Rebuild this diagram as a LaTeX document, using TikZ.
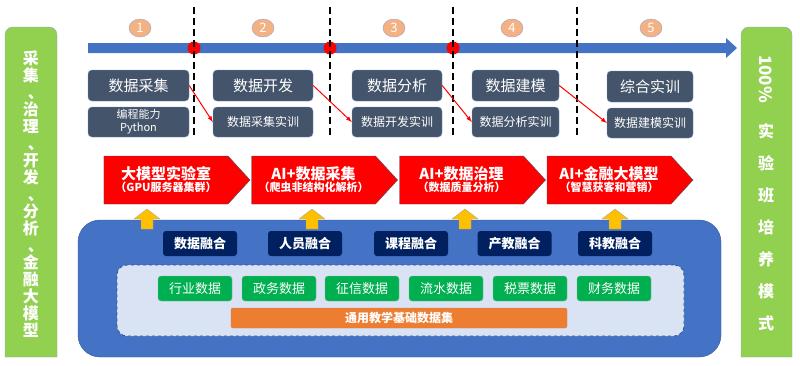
\documentclass[tikz,border=0pt]{standalone}
\usepackage{fontspec}
\setmainfont{Noto Sans CJK SC}
\usetikzlibrary{shapes.geometric,shapes.symbols}
\definecolor{sidegreen}{HTML}{92D050}
\definecolor{sideedge}{HTML}{8EA9B8}
\definecolor{slate}{HTML}{44546A}
\definecolor{slateedge}{HTML}{6F8FC8}
\definecolor{timeline}{HTML}{4472C4}
\definecolor{numorange}{HTML}{F4B183}
\definecolor{numedge}{HTML}{9DA7C4}
\definecolor{liftyellow}{HTML}{FFC000}
\definecolor{panelblue}{HTML}{4472C4}
\definecolor{paneledge}{HTML}{2F5597}
\definecolor{navy}{HTML}{002060}
\definecolor{poolblue}{HTML}{DAE3F3}
\definecolor{datagreen}{HTML}{00B050}
\definecolor{dataedge}{HTML}{7FB89A}
\definecolor{baseorange}{HTML}{ED7D31}
\definecolor{baseedge}{HTML}{C8855A}
\newcommand{\dunhao}{\makebox[1em][l]{\hspace{0.3em}、}}

\tikzstyle{every node}=[align=center, inner sep=1pt, text=white]
\tikzstyle{side}=[fill=sidegreen, draw=sideedge, thin]
\tikzstyle{phase}=[draw=slateedge, fill=slate, rounded corners=4pt, minimum height=31pt, font={\fontsize{15}{17}\selectfont}]
\tikzstyle{training}=[phase, minimum height=30pt, font={\fontsize{12}{13}\selectfont}]
\tikzstyle{num}=[ellipse, fill=numorange, draw=numedge, minimum width=22pt, minimum height=18pt, inner sep=0pt, font={\fontsize{13}{13}\selectfont}]
\tikzstyle{milestone}=[circle, fill=red, minimum size=13pt, inner sep=0pt]
\tikzstyle{cut}=[black, line width=1.5pt, dash pattern=on 7pt off 4pt]
\tikzstyle{jump}=[red, line width=1pt, -latex]
\tikzstyle{lab}=[signal, signal to=east, signal pointer angle=95, fill=red, draw=slate, minimum width=146pt, minimum height=48pt, font=\bfseries]
\tikzstyle{lift}=[fill=liftyellow, draw=gray!70, thin]
\tikzstyle{panel}=[fill=panelblue, draw=paneledge, rounded corners=22pt, minimum width=643pt, minimum height=137pt]
\tikzstyle{fusion}=[fill=navy, rounded corners=3pt, minimum width=74pt, minimum height=25pt, font={\bfseries\fontsize{13}{15}\selectfont}]
\tikzstyle{pool}=[fill=poolblue, draw=paneledge, thick, dashed, rounded corners=10pt, minimum width=567pt, minimum height=71pt]
\tikzstyle{dataset}=[fill=datagreen, draw=dataedge, rounded corners=3pt, minimum width=74pt, minimum height=25pt, font={\fontsize{13}{15}\selectfont}]
\tikzstyle{base}=[fill=baseorange, draw=baseedge, rounded corners=2pt, minimum width=336pt, minimum height=20pt, font={\bfseries\fontsize{12}{14}\selectfont}]

\begin{document}
\begin{tikzpicture}[x=1pt, y=-1pt]
    \useasboundingbox (0,0) rectangle (800,365);

    % side boxes
    \draw[side] (5,357) [rounded corners=8pt] -- (5,27) -- (57,27) [sharp corners] -- (57,357) -- cycle;
    \draw[side] (741,357) [rounded corners=8pt] -- (741,27) -- (792,27) [sharp corners] -- (792,357) -- cycle;
    \node[font={\bfseries\fontsize{16}{17}\selectfont}] (goal) at (31,194)
        {采\\集\\\dunhao\\治\\理\\\dunhao\\开\\发\\\dunhao\\分\\析\\\dunhao\\金\\融\\大\\模\\型};
    \node[rotate=-90, font={\bfseries\fontsize{17}{17}\selectfont}] (rate) at (766,79) {100\%};
    \node[font={\bfseries\fontsize{16}{32}\selectfont}] (mode) at (766,227) {实\\验\\班\\培\\养\\模\\式};

    % timeline
    \fill[timeline] (88,43) -- (726,43) -- (726,38) -- (737,48) -- (726,58) -- (726,53) -- (88,53) -- cycle;
    \node[milestone] (m1) at (194,48) {};
    \node[milestone] (m2) at (330,48) {};
    \node[milestone] (m3) at (453,48) {};
    \foreach \x in {194,330,453,577}
        \draw[cut] (\x,7) -- (\x,135);
    \node[num] (n1) at (140,28) {1};
    \node[num] (n2) at (263,28) {2};
    \node[num] (n3) at (394,28) {3};
    \node[num] (n4) at (512,28) {4};
    \node[num] (n5) at (651,28) {5};

    % stages
    \node[phase, minimum width=101pt] (a1) at (138.5,85.5) {数据采集};
    \node[phase, minimum width=100pt] (a2) at (263,85.5) {数据开发};
    \node[phase, minimum width=90pt] (a3) at (397,85.5) {数据分析};
    \node[phase, minimum width=87pt] (a4) at (515.5,85.5) {数据建模};
    \node[phase, minimum width=86pt] (a5) at (650,86.5) {综合实训};
    \node[training, minimum width=101pt, font={\fontsize{11}{13}\selectfont}] (b1) at (138.5,122) {编程能力\\Python};
    \node[training, minimum width=100pt] (b2) at (263,122) {数据采集实训};
    \node[training, minimum width=90pt] (b3) at (397,122) {数据开发实训};
    \node[training, minimum width=87pt] (b4) at (515.5,122) {数据分析实训};
    \node[training, minimum width=86pt] (b5) at (650,123) {数据建模实训};
    \draw[jump] (a1.east) -- (b2.west);
    \draw[jump] (a2.east) -- (b3.west);
    \draw[jump] (a3.east) -- (b4.west);
    \draw[jump] (a4.east) -- (b5.west);

    % labs
    \node[lab] (l1) at (166,180) {{\fontsize{15}{18}\selectfont 大模型实验室}\\{\fontsize{11}{13}\selectfont （GPU服务器集群）}};
    \node[lab] (l2) at (313.5,180) {{\fontsize{15}{18}\selectfont AI+数据采集}\\{\fontsize{11}{13}\selectfont （爬虫非结构化解析）}};
    \node[lab] (l3) at (461.5,180) {{\fontsize{15}{18}\selectfont AI+数据治理}\\{\fontsize{11}{13}\selectfont （数据质量分析）}};
    \node[lab] (l4) at (609,180) {{\fontsize{15}{18}\selectfont AI+金融大模型}\\{\fontsize{11}{13}\selectfont （智慧获客和营销）}};

    % base platform
    \node[panel] (panel) at (399.5,288.5) {};
    \foreach \x in {147,312,465,615}
        \draw[lift] (\x-6,229) -- (\x-6,219) -- (\x-13,219) -- (\x,209) -- (\x+13,219) -- (\x+6,219) -- (\x+6,229) -- cycle;
    \node[fusion] (f1) at (200,243.5) {数据融合};
    \node[fusion] (f2) at (305,243.5) {人员融合};
    \node[fusion] (f3) at (411,243.5) {课程融合};
    \node[fusion] (f4) at (514.5,243.5) {产教融合};
    \node[fusion] (f5) at (615,243.5) {科教融合};
    \node[pool] (pool) at (400.5,300.5) {};
    \node[dataset] (d1) at (195,288.5) {行业数据};
    \node[dataset] (d2) at (279,288.5) {政务数据};
    \node[dataset] (d3) at (362,288.5) {征信数据};
    \node[dataset] (d4) at (446,288.5) {流水数据};
    \node[dataset] (d5) at (530,288.5) {税票数据};
    \node[dataset] (d6) at (614,288.5) {财务数据};
    \node[base] (common) at (399,318) {通用教学基础数据集};
\end{tikzpicture}
\end{document}
